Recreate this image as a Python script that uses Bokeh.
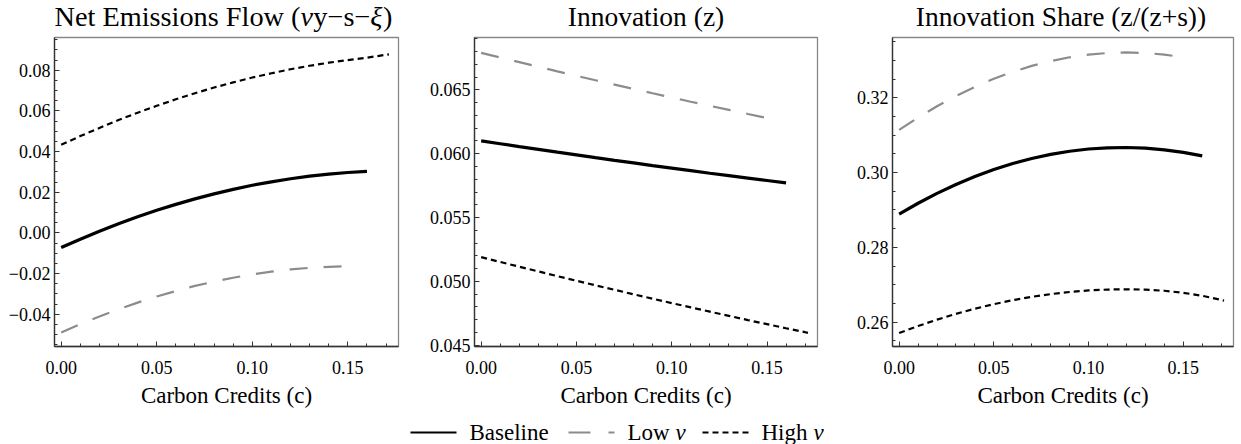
from bokeh.plotting import figure
from bokeh.layouts import row, column
from bokeh.models import Range1d, FixedTicker, Label, CustomJSTickFormatter
from bokeh.embed import file_html
from bokeh.resources import INLINE
import numpy as np

# ---- data: carbon credit grids per scenario ----
c_base = [0.00, 0.01, 0.02, 0.03, 0.04, 0.05, 0.06, 0.07, 0.08, 0.09,
          0.10, 0.11, 0.12, 0.13, 0.14, 0.15, 0.16]
c_low = [0.00, 0.01, 0.02, 0.03, 0.04, 0.05, 0.06, 0.07, 0.08, 0.09,
         0.10, 0.11, 0.12, 0.13, 0.14, 0.149]
c_high = [0.00, 0.01, 0.02, 0.03, 0.04, 0.05, 0.06, 0.07, 0.08, 0.09,
          0.10, 0.11, 0.12, 0.13, 0.14, 0.15, 0.16, 0.17, 0.1715]

# Net emissions flow
net_base = [-0.0072, -0.0031, 0.0008, 0.0045, 0.0079, 0.0111, 0.0140, 0.0167,
            0.0192, 0.0214, 0.0234, 0.0251, 0.0266, 0.0279, 0.0289, 0.0297, 0.0302]
net_low = [-0.0490, -0.0449, -0.0411, -0.0376, -0.0343, -0.0313, -0.0286, -0.0261,
           -0.0240, -0.0221, -0.0204, -0.0191, -0.0180, -0.0172, -0.0167, -0.0164]
net_high = [0.0433, 0.0476, 0.0516, 0.0555, 0.0591, 0.0625, 0.0657, 0.0687, 0.0715,
            0.0740, 0.0764, 0.0785, 0.0805, 0.0822, 0.0837, 0.0850, 0.0862, 0.0876, 0.0878]

# Innovation z
inn_base = [0.06100, 0.06078, 0.06055, 0.06034, 0.06012, 0.05991, 0.05969, 0.05948,
            0.05928, 0.05907, 0.05887, 0.05867, 0.05847, 0.05828, 0.05809, 0.05790, 0.05771]
inn_low = [0.06790, 0.06753, 0.06717, 0.06681, 0.06645, 0.06610, 0.06575, 0.06541,
           0.06507, 0.06473, 0.06440, 0.06407, 0.06375, 0.06343, 0.06311, 0.06283]
inn_high = [0.05190, 0.05152, 0.05115, 0.05078, 0.05041, 0.05005, 0.04969, 0.04934,
            0.04899, 0.04864, 0.04830, 0.04796, 0.04763, 0.04730, 0.04697, 0.04665,
            0.04633, 0.04602, 0.04597]

# Innovation share z/(z+s)
shr_base = [0.28891, 0.29179, 0.29443, 0.29680, 0.29892, 0.30079, 0.30240, 0.30376,
            0.30485, 0.30570, 0.30629, 0.30662, 0.30670, 0.30652, 0.30608, 0.30539, 0.30445]
shr_low = [0.31140, 0.31471, 0.31773, 0.32046, 0.32290, 0.32506, 0.32693, 0.32851,
           0.32980, 0.33081, 0.33153, 0.33196, 0.33210, 0.33196, 0.33153, 0.33089]
shr_high = [0.25710, 0.25897, 0.26068, 0.26222, 0.26360, 0.26482, 0.26588, 0.26677,
            0.26750, 0.26807, 0.26848, 0.26872, 0.26880, 0.26870, 0.26840, 0.26785,
            0.26705, 0.26595, 0.26575]

# ---- ticks ----
x_ticks = [0.00, 0.05, 0.10, 0.15]
net_ticks = [-0.04, -0.02, 0.00, 0.02, 0.04, 0.06, 0.08]
inn_ticks = [0.045, 0.050, 0.055, 0.060, 0.065]
shr_ticks = [0.26, 0.28, 0.30, 0.32]

SERIF = "Liberation Serif"
GRAY = "#8c8c8c"
X_RANGE = (-0.0035, 0.1765)
FRAME_H = 309
TITLE_H = 36
BOTTOM = 65


def fmt(decimals):
    return CustomJSTickFormatter(
        code=f"return tick.toFixed({decimals}).replace('-', '\\u2212');")


def panel(frame_w, left, right, y_range, yticks, ydec, yminor_step):
    p = figure(frame_width=frame_w, frame_height=FRAME_H,
               x_range=Range1d(*X_RANGE), y_range=Range1d(*y_range),
               output_backend="svg", toolbar_location=None, title=None,
               min_border_left=left, min_border_right=right,
               min_border_top=1, min_border_bottom=BOTTOM)
    p.xgrid.visible = False
    p.ygrid.visible = False
    p.outline_line_color = "#888888"
    p.outline_line_width = 1.3
    p.border_fill_color = "white"

    xminor = list(np.round(np.arange(0.0, 0.1751, 0.01), 4))
    p.xaxis.ticker = FixedTicker(ticks=x_ticks, minor_ticks=xminor)
    p.xaxis.formatter = fmt(2)
    lo = np.ceil(y_range[0] / yminor_step) * yminor_step
    yminor = list(np.round(np.arange(lo, y_range[1], yminor_step), 5))
    p.yaxis.ticker = FixedTicker(ticks=yticks, minor_ticks=yminor)
    p.yaxis.formatter = fmt(ydec)

    for axes in (p.xaxis, p.yaxis):
        axes.axis_line_color = "#333333"
        axes.axis_line_width = 1.3
        axes.major_tick_line_color = "#333333"
        axes.minor_tick_line_color = "#333333"
        axes.major_tick_in = 5
        axes.major_tick_out = 0
        axes.minor_tick_in = 3
        axes.minor_tick_out = 0
        axes.major_label_text_font = SERIF
        axes.major_label_text_font_size = "18px"
        axes.major_label_text_font_style = "normal"
        axes.major_label_text_color = "black"
    p.yaxis.major_label_standoff = 4
    p.xaxis.major_label_standoff = 14
    p.xaxis.axis_label = "Carbon Credits (c)"
    p.xaxis.axis_label_text_font = SERIF
    p.xaxis.axis_label_text_font_size = "23px"
    p.xaxis.axis_label_text_font_style = "normal"
    p.xaxis.axis_label_text_color = "black"
    p.xaxis.axis_label_standoff = 6
    return p


def curves(p, low, base, high):
    p.line(c_low, low, line_color=GRAY, line_width=2.2, line_dash="18 16")
    p.line(c_high, high, line_color="black", line_width=2.2, line_dash="6 4")
    p.line(c_base, base, line_color="black", line_width=3.2)


p1 = panel(344, 54, 16, (-0.0559, 0.0961), net_ticks, 2, 0.005)
curves(p1, net_low, net_base, net_high)
p2 = panel(343, 60, 15, (0.0449, 0.0691), inn_ticks, 3, 0.001)
curves(p2, inn_low, inn_base, inn_high)
p3 = panel(341, 60, 8, (0.2535, 0.3361), shr_ticks, 2, 0.005)
curves(p3, shr_low, shr_base, shr_high)


def strip(height):
    s = figure(width=1241, height=height, x_range=Range1d(0, 1241), y_range=Range1d(0, height),
               output_backend="svg", toolbar_location=None, x_axis_type=None,
               y_axis_type=None, min_border=0, title=None)
    s.outline_line_color = None
    s.xgrid.visible = False
    s.ygrid.visible = False
    return s


# ---- panel titles (mixed upright / italic pieces) ----
tstrip = strip(TITLE_H)
TITLE_SIZE = 27.5
titles = [
    (223.0, 28.3, [("Net Emissions Flow (", "normal", 8.695), ("\u03bd", "italic", 0.45),
                   ("y\u2212s\u2212", "normal", 2.017), ("\u03be", "italic", 0.45),
                   (")", "normal", 0.333)]),
    (645.5, TITLE_SIZE, [("Innovation (z)", "normal", 5.693)]),
    (1060.5, TITLE_SIZE, [("Innovation Share (z/(z+s))", "normal", 10.561)]),
]
for xc, size, pieces in titles:
    x = xc - sum(w for _, _, w in pieces) * size / 2.0
    for text, style, w in pieces:
        tstrip.add_layout(Label(x=x, y=20, text=text, text_font=SERIF,
                                text_font_size=f"{size}px", text_font_style=style,
                                text_color="black", text_align="left",
                                text_baseline="middle"))
        x += w * size

# ---- legend strip ----
leg = strip(33)
ly = 12
entries = [
    (410, dict(line_color="black", line_width=2.2), [("Baseline", "normal", 0)]),
    (568, dict(line_color=GRAY, line_width=2.2, line_dash="22 18"),
     [("Low ", "normal", 48), ("\u03bd", "italic", 0)]),
    (702, dict(line_color="black", line_width=2.2, line_dash="6 4"),
     [("High ", "normal", 52), ("\u03bd", "italic", 0)]),
]
for x0, style, texts in entries:
    leg.line([x0, x0 + 46], [ly, ly], **style)
    tx = x0 + 46 + 13
    for t, fs, w in texts:
        leg.add_layout(Label(x=tx, y=ly, text=t, text_font=SERIF, text_font_size="23px",
                             text_font_style=fs, text_color="black",
                             text_align="left", text_baseline="middle"))
        tx += w

layout = column(tstrip, row(p1, p2, p3, spacing=0), leg, spacing=0)
open("out.html", "w").write(file_html(layout, INLINE))
